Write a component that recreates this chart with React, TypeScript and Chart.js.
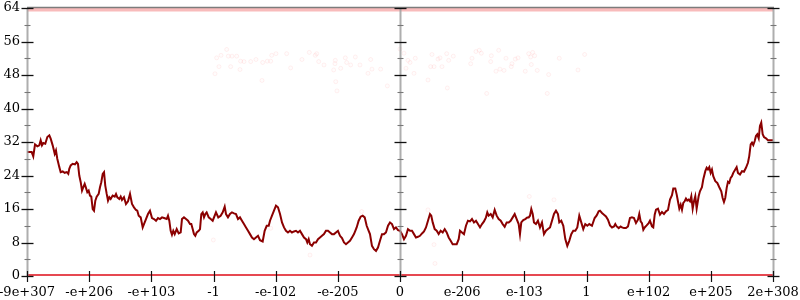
import React, { useEffect, useRef } from 'react';
import { Chart, registerables } from 'chart.js';

Chart.register(...registerables);

// x axis: 12 equal intervals, labelled by the float value at each boundary
const xTickLabels = ['-9e+307', '-e+206', '-e+103', '-1', '-e-102', '-e-205', '0', 'e-206', 'e-103', '1', 'e+102', 'e+205', '2e+308'];

// running mean curve [x position in axis units, value]
const meanCurve: [number, number][] = [
  [0, 29.6], [0.076, 29.6], [0.101, 28.56], [0.129, 31.44], [0.166, 30.96], [0.198, 31.2], [0.22, 32.4], [0.241, 31.2], [0.262, 31.76], [0.294, 31.6],
  [0.327, 33.2], [0.359, 33.6], [0.381, 32.8], [0.413, 31.2], [0.446, 29.2], [0.466, 30], [0.487, 28], [0.52, 26], [0.542, 24.8], [0.574, 24.96],
  [0.606, 24.64], [0.639, 24.8], [0.664, 24.4], [0.68, 25.6], [0.703, 26.4], [0.735, 26.8], [0.772, 26.64], [0.799, 27.2], [0.82, 26.8], [0.841, 24],
  [0.864, 22.4], [0.885, 20.4], [0.906, 21.2], [0.928, 22], [0.949, 21.04], [0.97, 20], [0.992, 20.4], [1.013, 19.2], [1.034, 18.96], [1.057, 16],
  [1.078, 15.6], [1.099, 18], [1.121, 18.96], [1.153, 19.6], [1.174, 21.2], [1.195, 22.4], [1.218, 24.4], [1.239, 24.8], [1.259, 21.6], [1.282, 19.6],
  [1.303, 18], [1.324, 18.8], [1.346, 18.4], [1.378, 19.2], [1.411, 18.96], [1.432, 19.6], [1.453, 18.8], [1.485, 18.4], [1.507, 18.96], [1.528, 18.16],
  [1.56, 18.8], [1.592, 17.2], [1.625, 17.84], [1.657, 19.6], [1.689, 17.2], [1.721, 16.4], [1.753, 15.76], [1.774, 15.6], [1.797, 14.4], [1.829, 14],
  [1.861, 11.6], [1.882, 12.4], [1.914, 13.6], [1.946, 14.8], [1.978, 15.6], [2.011, 13.84], [2.043, 13.6], [2.075, 13.2], [2.107, 13.84], [2.139, 13.6],
  [2.172, 14], [2.204, 13.84], [2.247, 13.6], [2.268, 14.4], [2.289, 13.2], [2.311, 10.8], [2.332, 9.84], [2.353, 10.8], [2.376, 10], [2.408, 11.2],
  [2.44, 10.16], [2.472, 10.4], [2.493, 13.6], [2.525, 14], [2.558, 13.6], [2.59, 13.2], [2.622, 12.4], [2.643, 12.4], [2.665, 11.2], [2.686, 10],
  [2.707, 9.6], [2.73, 10.4], [2.762, 10.8], [2.783, 11.2], [2.804, 14.8], [2.826, 15.2], [2.847, 14], [2.868, 14.8], [2.89, 15.2], [2.923, 14],
  [2.955, 13.6], [2.987, 13.2], [3.04, 15.2], [3.077, 14], [3.115, 14.4], [3.148, 15.2], [3.18, 16.56], [3.201, 14.8], [3.233, 14], [3.265, 14.8],
  [3.297, 15.2], [3.33, 14.96], [3.362, 14.8], [3.394, 13.6], [3.426, 14], [3.458, 13.2], [3.49, 12.4], [3.523, 11.6], [3.555, 10.8], [3.587, 10],
  [3.619, 9.2], [3.651, 8.8], [3.683, 9.2], [3.716, 9.6], [3.748, 8.56], [3.791, 8.24], [3.823, 10.8], [3.856, 12], [3.888, 12], [3.909, 13.2],
  [3.941, 14.4], [3.973, 15.6], [4.005, 16.8], [4.037, 16.4], [4.07, 14.8], [4.102, 12.8], [4.134, 11.6], [4.166, 10.8], [4.198, 10.4], [4.23, 10.8],
  [4.262, 10.4], [4.295, 10.64], [4.327, 10.8], [4.359, 10.4], [4.391, 10.8], [4.423, 10], [4.456, 9.2], [4.488, 8.8], [4.509, 8], [4.531, 8.8],
  [4.552, 7.6], [4.584, 7.2], [4.616, 8], [4.649, 8], [4.681, 8.8], [4.713, 9.2], [4.745, 9.6], [4.777, 10], [4.809, 10.8], [4.842, 10.8],
  [4.874, 10.4], [4.906, 10], [4.938, 10], [4.97, 10.4], [5.002, 10.8], [5.035, 9.6], [5.067, 9.04], [5.099, 8], [5.131, 7.6], [5.163, 8],
  [5.195, 8.4], [5.228, 9.2], [5.26, 10], [5.281, 10.8], [5.303, 11.6], [5.335, 13.2], [5.367, 14.16], [5.4, 14.4], [5.432, 14], [5.464, 12],
  [5.496, 10.8], [5.517, 10], [5.549, 7.2], [5.581, 6.4], [5.614, 6], [5.646, 6.8], [5.678, 8.4], [5.71, 10], [5.742, 10], [5.774, 10.4],
  [5.807, 12], [5.839, 12.8], [5.871, 12.4], [5.903, 11.2], [5.935, 11.6], [5.968, 10.96], [6, 10.8], [6.032, 10], [6.064, 8.8], [6.096, 9.6],
  [6.128, 11.2], [6.161, 10.8], [6.193, 10.8], [6.225, 10], [6.257, 9.2], [6.289, 9.36], [6.321, 9.6], [6.354, 10.16], [6.386, 10.64], [6.418, 11.6],
  [6.45, 13.2], [6.482, 14.8], [6.503, 14.4], [6.526, 12.8], [6.558, 11.2], [6.59, 10.8], [6.622, 10], [6.654, 10.8], [6.687, 10.4], [6.719, 11.2],
  [6.751, 10.4], [6.783, 9.2], [6.815, 8.4], [6.847, 7.6], [6.88, 7.6], [6.912, 7.6], [6.944, 8.8], [6.965, 10.8], [6.997, 10.4], [7.029, 10],
  [7.061, 12], [7.093, 13.2], [7.126, 13.04], [7.158, 13.6], [7.19, 12.8], [7.222, 13.2], [7.254, 12.4], [7.287, 11.6], [7.319, 12.4], [7.351, 13.04],
  [7.383, 14], [7.404, 15.2], [7.426, 14.4], [7.459, 14.8], [7.491, 14], [7.523, 15.76], [7.555, 14.4], [7.587, 13.6], [7.62, 13.2], [7.652, 12.4],
  [7.684, 11.76], [7.716, 12.8], [7.748, 12.8], [7.78, 13.2], [7.813, 14], [7.845, 14.8], [7.877, 13.6], [7.909, 12.4], [7.93, 10], [7.951, 12.8],
  [7.983, 13.36], [8.015, 13.6], [8.048, 14], [8.07, 14], [8.091, 14.4], [8.112, 16], [8.135, 14.8], [8.155, 12.8], [8.187, 12.4], [8.219, 13.2],
  [8.252, 11.6], [8.284, 12.8], [8.316, 10], [8.348, 10.8], [8.38, 11.2], [8.413, 11.6], [8.445, 13.2], [8.477, 14.8], [8.509, 15.6], [8.541, 14.8],
  [8.562, 12.8], [8.594, 13.2], [8.627, 12], [8.659, 8.8], [8.691, 7.2], [8.723, 8.4], [8.755, 10], [8.787, 10.8], [8.82, 10.8], [8.852, 11.6],
  [8.884, 14.4], [8.916, 12.8], [8.948, 11.2], [8.98, 12.4], [9.013, 12], [9.045, 12.4], [9.088, 12], [9.131, 13.84], [9.164, 14.48], [9.196, 15.44],
  [9.217, 15.6], [9.249, 15.04], [9.281, 14.64], [9.313, 14.24], [9.345, 13.44], [9.378, 12.08], [9.41, 11.6], [9.442, 11.84], [9.463, 12.4], [9.486, 11.84],
  [9.518, 11.44], [9.55, 11.84], [9.571, 11.6], [9.603, 11.44], [9.635, 11.44], [9.667, 11.84], [9.699, 13.84], [9.731, 14], [9.764, 13.84], [9.796, 12.64],
  [9.828, 13.44], [9.849, 14.8], [9.871, 13.04], [9.892, 12.64], [9.914, 11.04], [9.936, 11.6], [9.968, 12.08], [10, 12.64], [10.021, 13.2], [10.053, 11.84],
  [10.074, 11.6], [10.097, 14.64], [10.118, 15.84], [10.15, 16.08], [10.182, 14.64], [10.214, 15.28], [10.246, 14.8], [10.278, 15.44], [10.311, 15.76], [10.343, 18.24],
  [10.375, 19.28], [10.396, 20.88], [10.428, 20.88], [10.451, 19.44], [10.471, 17.84], [10.493, 16.08], [10.515, 17.04], [10.536, 15.84], [10.557, 17.44], [10.579, 17.84],
  [10.6, 18.48], [10.621, 18], [10.643, 18.24], [10.665, 17.84], [10.686, 19.04], [10.708, 16.08], [10.729, 17.84], [10.75, 19.04], [10.772, 16.08], [10.804, 19.04],
  [10.825, 20.24], [10.857, 21.2], [10.878, 23.04], [10.911, 25.04], [10.933, 25.84], [10.954, 25.44], [10.975, 26], [10.997, 24.64], [11.018, 25.44], [11.039, 23.84],
  [11.072, 22.64], [11.104, 22.24], [11.136, 21.2], [11.168, 20.24], [11.19, 18.64], [11.211, 17.68], [11.232, 18.64], [11.255, 21.04], [11.276, 22.48], [11.297, 22.24],
  [11.319, 23.44], [11.34, 23.84], [11.361, 24.64], [11.393, 25.44], [11.415, 26], [11.436, 24.64], [11.469, 24.24], [11.501, 25.04], [11.533, 24.88], [11.565, 25.84],
  [11.597, 27.04], [11.618, 28.64], [11.641, 31.44], [11.662, 31.84], [11.683, 31.28], [11.706, 32.24], [11.726, 33.44], [11.747, 33.84], [11.77, 32.88], [11.79, 35.84],
  [11.811, 36.64], [11.834, 33.84], [11.855, 33.2], [11.887, 32.88], [11.919, 32.4], [11.951, 32.4], [12, 32.4],
];

// faint individual samples that are neither 0 nor 64
const faintSamples: [number, number][] = [
  [3.024, 48.3], [3.051, 52.1], [3.088, 50.0], [3.121, 52.7], [3.212, 54.1], [3.238, 52.5], [3.276, 50.0], [3.297, 52.5], [3.373, 52.5], [3.426, 49.3],
  [3.437, 51.3], [3.49, 51.2], [3.598, 51.2], [3.683, 51.7], [3.78, 46.7], [3.791, 51.0], [3.865, 51.3], [3.92, 51.3], [3.936, 52.7], [4.005, 53.1],
  [4.177, 53.1], [4.241, 49.7], [4.423, 51.7], [4.541, 53.4], [4.637, 52.7], [4.66, 53.1], [4.692, 51.2], [4.777, 50.4], [4.933, 49.2], [4.954, 50.7],
  [4.959, 51.5], [4.966, 46.4], [4.986, 44.2], [5.046, 49.6], [5.12, 52.1], [5.142, 51.0], [5.207, 50.4], [5.281, 52.3], [5.356, 50.4], [5.485, 48.4],
  [5.528, 51.7], [5.549, 49.4], [5.689, 49.4], [5.796, 45.4], [6.0, 54.2], [6.064, 53.2], [6.096, 49.6], [6.128, 51.5], [6.161, 51.0], [6.225, 48.4],
  [6.246, 52.0], [6.45, 46.8], [6.514, 52.9], [6.493, 50.0], [6.547, 50.0], [6.611, 51.8], [6.643, 52.1], [6.675, 50.0], [6.751, 53.1], [6.761, 44.9],
  [6.783, 51.5], [6.857, 52.5], [7.137, 50.7], [7.158, 52.0], [7.222, 53.6], [7.275, 53.9], [7.308, 53.2], [7.394, 43.6], [7.469, 52.6], [7.459, 51.2],
  [7.544, 48.9], [7.587, 53.9], [7.608, 49.4], [7.673, 49.1], [7.705, 52.0], [7.79, 50.0], [7.801, 50.7], [7.854, 51.8], [7.898, 52.1], [8.015, 48.9],
  [8.07, 53.1], [8.102, 52.3], [8.112, 50.5], [8.134, 53.4], [8.166, 52.6], [8.208, 49.1], [8.369, 43.6], [8.391, 48.1], [8.562, 52.0], [8.863, 49.2],
  [8.97, 52.9], [2.997, 8.6], [3.92, 11.4], [4.552, 5.0], [6.563, 3.0], [6.45, 15.8], [6.547, 7.5], [8.08, 19.0], [8.477, 18.2], [5.384, 15.4],
];

// dense bands of samples sitting at the extremes
const lowBand: [number, number][] = [[0, 0], [12, 0]];
const highBand: [number, number][] = [[0, 63.6], [12, 63.6]];

const yMajorStep = 8;
const yMinorStep = 4;

const toPts = (arr: [number, number][]) => arr.map(([x, y]) => ({ x, y }));

const crossAxes = {
  id: 'crossAxes',
  afterDatasetsDraw(chart: any) {
    const { ctx, chartArea, scales } = chart;
    const xs = scales.x;
    const ys = scales.y;
    const { top, bottom } = chartArea;
    ctx.save();
    const verticals = [xs.min, (xs.min + xs.max) / 2, xs.max].map((v: number) => xs.getPixelForValue(v));
    ctx.strokeStyle = 'rgba(160,160,160,0.85)';
    ctx.lineWidth = 2;
    for (const px of verticals) {
      ctx.beginPath();
      ctx.moveTo(px + 0.5, top);
      ctx.lineTo(px + 0.5, bottom + 1);
      ctx.stroke();
    }
    ctx.strokeStyle = 'rgba(110,110,110,0.9)';
    ctx.lineWidth = 1.5;
    ctx.beginPath();
    ctx.moveTo(verticals[0], top - 0.5);
    ctx.lineTo(verticals[2] + 1, top - 0.5);
    ctx.stroke();
    for (let v = ys.min; v <= ys.max; v += yMinorStep) {
      const py = Math.round(ys.getPixelForValue(v)) + 0.5;
      const major = v % yMajorStep === 0;
      ctx.strokeStyle = major ? '#111' : '#777';
      ctx.lineWidth = major ? 1.3 : 1.1;
      const half = major ? 6 : 3;
      for (const px of verticals) {
        ctx.beginPath();
        ctx.moveTo(px + 0.5 - half, py);
        ctx.lineTo(px + 0.5 + half, py);
        ctx.stroke();
      }
    }
    ctx.strokeStyle = '#111';
    ctx.lineWidth = 1.2;
    for (let i = 0; i < xTickLabels.length; i++) {
      const px = Math.round(xs.getPixelForValue(i)) + 0.5;
      ctx.beginPath();
      ctx.moveTo(px, bottom - 5);
      ctx.lineTo(px, bottom + 6);
      ctx.stroke();
    }
    ctx.restore();
  },
};

export default function App() {
  const ref = useRef<HTMLCanvasElement | null>(null);
  useEffect(() => {
    if (!ref.current) return;
    const chart = new Chart(ref.current, {
      type: 'line',
      data: {
        datasets: [
          {
            label: 'mean',
            data: toPts(meanCurve),
            borderColor: '#8b0000',
            borderWidth: 2,
            pointRadius: 0,
            tension: 0,
            order: 0,
          },
          {
            label: 'low',
            data: toPts(lowBand),
            borderColor: 'rgba(226,40,50,0.85)',
            borderWidth: 4,
            pointRadius: 0,
            order: 1,
          },
          {
            label: 'high',
            data: toPts(highBand),
            borderColor: 'rgba(235,60,60,0.35)',
            borderWidth: 3.5,
            pointRadius: 0,
            order: 2,
          },
          {
            label: 'samples',
            data: toPts(faintSamples),
            showLine: false,
            pointRadius: 2,
            pointBorderWidth: 1,
            pointBorderColor: 'rgba(255,80,80,0.08)',
            pointBackgroundColor: 'rgba(255,80,80,0.02)',
            order: 3,
          },
        ],
      },
      options: {
        animation: false,
        responsive: false,
        devicePixelRatio: 1,
        layout: { padding: { top: 8, right: 27, left: 0, bottom: 0 } },
        plugins: { legend: { display: false }, tooltip: { enabled: false } },
        scales: {
          x: {
            type: 'linear',
            min: 0,
            max: 12,
            border: { display: false },
            grid: { display: false, drawTicks: false },
            ticks: {
              stepSize: 1,
              autoSkip: false,
              maxRotation: 0,
              padding: 9,
              color: '#000',
              font: { family: 'DejaVu Serif', size: 13 },
              callback: (v: any) => xTickLabels[Math.round(Number(v))] ?? '',
            },
            afterFit: (s: any) => {
              s.height = 24;
              s.paddingLeft = 0;
              s.paddingRight = 0;
            },
          },
          y: {
            type: 'linear',
            min: 0,
            max: 64,
            border: { display: false },
            grid: { display: false, drawTicks: false },
            ticks: {
              stepSize: yMajorStep,
              padding: 7,
              color: '#000',
              font: { family: 'DejaVu Serif', size: 13 },
            },
            afterFit: (s: any) => {
              s.width = 27;
              s.paddingTop = 0;
              s.paddingBottom = 0;
            },
          },
        },
      },
      plugins: [crossAxes],
    });
    return () => chart.destroy();
  }, []);
  return (
    <div style={{ position: 'absolute', left: 0, top: 0, width: 800, height: 300, background: '#fff' }}>
      <canvas ref={ref} width={800} height={300} style={{ width: 800, height: 300, display: 'block' }} />
    </div>
  );
}
